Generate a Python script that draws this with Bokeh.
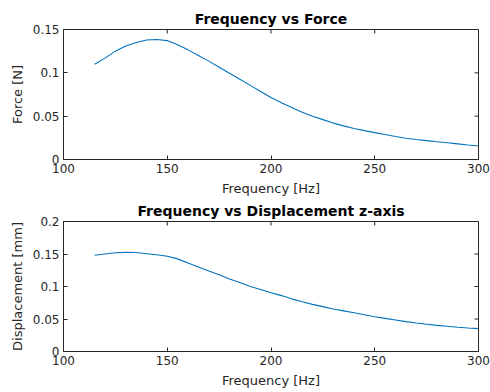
from bokeh.plotting import figure
from bokeh.layouts import column
from bokeh.models import Range1d, FixedTicker, CustomJSTickFormatter
from bokeh.embed import file_html
from bokeh.resources import INLINE

freq = [115, 120, 125, 130, 135, 140, 145, 150, 155, 160, 165, 170, 175, 180, 185,
        190, 195, 200, 205, 210, 215, 220, 225, 230, 235, 240, 245, 250, 255, 260,
        265, 270, 275, 280, 285, 290, 295, 300]
force = [0.110, 0.117, 0.125, 0.131, 0.135, 0.1378, 0.1385, 0.1372, 0.1325, 0.1265,
         0.1200, 0.1135, 0.1065, 0.0995, 0.0925, 0.0855, 0.0785, 0.0715, 0.0655,
         0.0600, 0.0545, 0.0500, 0.0460, 0.0420, 0.0388, 0.0358, 0.0333, 0.0310,
         0.0288, 0.0265, 0.0245, 0.0230, 0.0218, 0.0205, 0.0193, 0.0180, 0.0167,
         0.0155]
disp = [0.148, 0.150, 0.152, 0.1525, 0.1522, 0.1505, 0.1488, 0.1465, 0.1425, 0.1360,
        0.1300, 0.1240, 0.1180, 0.1115, 0.1060, 0.1000, 0.0955, 0.0905, 0.0860,
        0.0810, 0.0765, 0.0725, 0.0690, 0.0655, 0.0625, 0.0595, 0.0565, 0.0535,
        0.0510, 0.0485, 0.0460, 0.0438, 0.0420, 0.0402, 0.0388, 0.0374, 0.0362,
        0.0352]

x_ticks = [100, 150, 200, 250, 300]
force_ticks = [0, 0.05, 0.1, 0.15]
disp_ticks = [0, 0.05, 0.1, 0.15, 0.2]

FONT = "DejaVu Sans"
GRAY = "#262626"
LINE = "#0072BD"
XMIN, XMAX = 100, 300
FW, FH = 415, 130
TICK_PX = 4

fmt_code = "return String(parseFloat(tick.toFixed(6)));"


def style_axis(ax):
    ax.major_tick_in = TICK_PX
    ax.major_tick_out = 0
    ax.minor_tick_line_color = None
    ax.axis_line_color = GRAY
    ax.major_tick_line_color = GRAY
    ax.major_label_text_font = FONT
    ax.major_label_text_color = GRAY
    ax.major_label_text_font_size = "12px"
    ax.major_label_standoff = 4
    ax.axis_label_text_font = FONT
    ax.axis_label_text_color = GRAY
    ax.axis_label_text_font_style = "normal"
    ax.axis_label_text_font_size = "13px"
    ax.axis_label_standoff = 5


def make(title, y, yticks, ymax, ylabel, top, bottom):
    p = figure(frame_width=FW, frame_height=FH, output_backend="svg",
               toolbar_location=None, x_range=Range1d(XMIN, XMAX),
               y_range=Range1d(0, ymax), min_border_left=63, min_border_right=12,
               min_border_top=top, min_border_bottom=bottom)
    p.line(freq, y, line_color=LINE, line_width=1.1)
    p.title.text = title
    p.title.align = "center"
    p.title.text_font = FONT
    p.title.text_font_size = "14px"
    p.title.text_font_style = "bold"
    p.title.text_color = "#000000"
    p.title.standoff = 5
    p.xgrid.visible = False
    p.ygrid.visible = False
    p.outline_line_color = GRAY
    p.outline_line_alpha = 1
    p.background_fill_color = "white"
    p.border_fill_color = "white"
    p.xaxis.ticker = FixedTicker(ticks=x_ticks)
    p.yaxis.ticker = FixedTicker(ticks=yticks)
    p.xaxis.formatter = CustomJSTickFormatter(code=fmt_code)
    p.yaxis.formatter = CustomJSTickFormatter(code=fmt_code)
    p.xaxis.axis_label = "Frequency [Hz]"
    p.yaxis.axis_label = ylabel
    for ax in p.xaxis + p.yaxis:
        style_axis(ax)
    # inward ticks on the top and right edges of the box
    dy = TICK_PX * ymax / FH
    dx = TICK_PX * (XMAX - XMIN) / FW
    p.segment(x0=x_ticks, x1=x_ticks, y0=[ymax] * len(x_ticks),
              y1=[ymax - dy] * len(x_ticks), line_color=GRAY, line_width=1)
    p.segment(x0=[XMAX] * len(yticks), x1=[XMAX - dx] * len(yticks),
              y0=yticks, y1=yticks, line_color=GRAY, line_width=1)
    return p


p1 = make("Frequency vs Force", force, force_ticks, 0.15, "Force [N]", 29, 38)
p2 = make("Frequency vs Displacement z-axis", disp, disp_ticks, 0.2,
          "Displacement [mm]", 22, 43)

layout = column(p1, p2, spacing=0)
open("out.html", "w").write(file_html(layout, INLINE))
